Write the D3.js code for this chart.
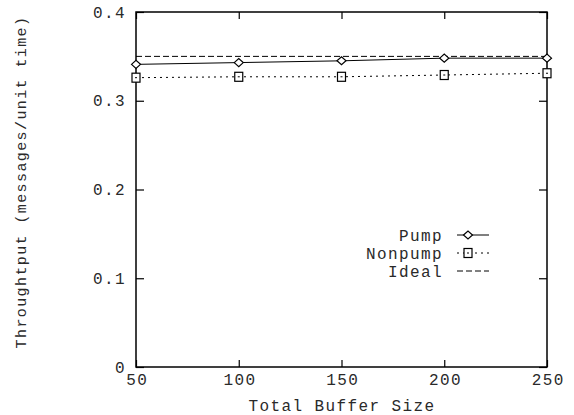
<!DOCTYPE html>
<html><head><meta charset="utf-8">
<script src="https://cdn.jsdelivr.net/npm/d3@7"></script>
<style>
body{margin:0;background:#fff;}
text{font-family:"Liberation Mono","Courier New",monospace;fill:#2a2a2a;}
</style></head>
<body><svg id="c" width="574" height="415"></svg>
<script>
const bufferSizes = [50, 100, 150, 200, 250];
const pumpValues = [0.341, 0.343, 0.345, 0.348, 0.348];
const nonpumpValues = [0.326, 0.327, 0.327, 0.329, 0.331];
const idealValue = 0.35;
const xTicks = [50, 100, 150, 200, 250];
const yTicks = [0, 0.1, 0.2, 0.3, 0.4];
const yTickLabels = ["0", "0.1", "0.2", "0.3", "0.4"];
const seriesNames = ["Pump", "Nonpump", "Ideal"];

const svg = d3.select("#c");
const L = 136, R = 547, T = 12, B = 367;
const x = d3.scaleLinear().domain([50, 250]).range([L, R]);
const y = d3.scaleLinear().domain([0, 0.4]).range([B, T]);
const fs = 16, ls = 1.4;

// frame
svg.append("rect").attr("x", L).attr("y", T).attr("width", R - L).attr("height", B - T)
  .attr("fill", "none").attr("stroke", "#000").attr("stroke-width", 1.5);

// axes with inner ticks
const xb = svg.append("g").attr("transform", `translate(0,${B})`)
  .call(d3.axisBottom(x).tickValues(xTicks).tickSizeInner(-7).tickSizeOuter(0).tickFormat(d3.format("d")));
const xt = svg.append("g").attr("transform", `translate(0,${T})`)
  .call(d3.axisTop(x).tickValues(xTicks).tickSizeInner(-7).tickSizeOuter(0).tickFormat(""));
const yl = svg.append("g").attr("transform", `translate(${L},0)`)
  .call(d3.axisLeft(y).tickValues(yTicks).tickSizeInner(-8).tickSizeOuter(0).tickFormat((d, i) => yTickLabels[i]));
const yr = svg.append("g").attr("transform", `translate(${R},0)`)
  .call(d3.axisRight(y).tickValues(yTicks).tickSizeInner(-8).tickSizeOuter(0).tickFormat(""));
[xb, xt, yl, yr].forEach(g => {
  g.select(".domain").remove();
  g.selectAll("line").attr("stroke", "#000").attr("stroke-width", 1.2);
  g.selectAll("text").attr("font-size", fs).attr("font-family", '"Liberation Mono", monospace')
    .attr("letter-spacing", ls).attr("fill", "#2a2a2a");
});
xb.selectAll("text").attr("dy", "0").attr("y", 18).attr("dx", ls / 2);
yl.selectAll("text").attr("dx", 0).attr("x", -10);

// axis labels
svg.append("text").attr("x", 342).attr("y", 411).attr("text-anchor", "middle")
  .attr("font-size", fs).attr("letter-spacing", ls).text("Total Buffer Size");
svg.append("text").attr("transform", "translate(26,182) rotate(-90)").attr("text-anchor", "middle")
  .attr("font-size", 15).attr("letter-spacing", 1.4).text("Throughtput (messages/unit time)");

const line = d3.line().x((d, i) => x(bufferSizes[i])).y(d => y(d));
// ideal
svg.append("line").attr("x1", x(50)).attr("x2", x(250)).attr("y1", y(idealValue)).attr("y2", y(idealValue))
  .attr("stroke", "#000").attr("stroke-width", 1).attr("stroke-dasharray", "6,3");
svg.append("path").datum(pumpValues).attr("d", line).attr("fill", "none").attr("stroke", "#000").attr("stroke-width", 1);
svg.append("path").datum(nonpumpValues).attr("d", line).attr("fill", "none").attr("stroke", "#000").attr("stroke-width", 1).attr("stroke-dasharray", "2,4");

function diamond(g, cx, cy) {
  g.append("path").attr("d", `M${cx - 4.5},${cy}L${cx},${cy - 4}L${cx + 4.5},${cy}L${cx},${cy + 4}Z`)
    .attr("fill", "#fff").attr("stroke", "#000").attr("stroke-width", 1.2);
}
function square(g, cx, cy) {
  g.append("rect").attr("x", cx - 4).attr("y", cy - 4.5).attr("width", 8).attr("height", 9)
    .attr("fill", "#fff").attr("stroke", "#000").attr("stroke-width", 1.2);
  g.append("line").attr("x1", cx - 1).attr("x2", cx + 1).attr("y1", cy).attr("y2", cy).attr("stroke", "#000");
}
const mk = svg.append("g");
pumpValues.forEach((v, i) => diamond(mk, x(bufferSizes[i]), y(v)));
nonpumpValues.forEach((v, i) => square(mk, x(bufferSizes[i]), y(v)));

// legend
const legY = [235, 253, 271];
const lx1 = 457, lx2 = 489, mx = 468;
seriesNames.forEach((n, i) => {
  svg.append("text").attr("x", 443).attr("y", legY[i]).attr("dy", "0.35em").attr("text-anchor", "end")
    .attr("font-size", fs).attr("letter-spacing", ls).text(n);
});
svg.append("line").attr("x1", lx1).attr("x2", lx2).attr("y1", legY[0]).attr("y2", legY[0]).attr("stroke", "#000");
diamond(svg, mx, legY[0]);
svg.append("line").attr("x1", lx1).attr("x2", lx2).attr("y1", legY[1]).attr("y2", legY[1]).attr("stroke", "#000").attr("stroke-dasharray", "2,4");
square(svg, mx, legY[1]);
svg.append("line").attr("x1", lx1).attr("x2", lx2).attr("y1", legY[2]).attr("y2", legY[2]).attr("stroke", "#000").attr("stroke-dasharray", "6,3");
</script></body></html>
